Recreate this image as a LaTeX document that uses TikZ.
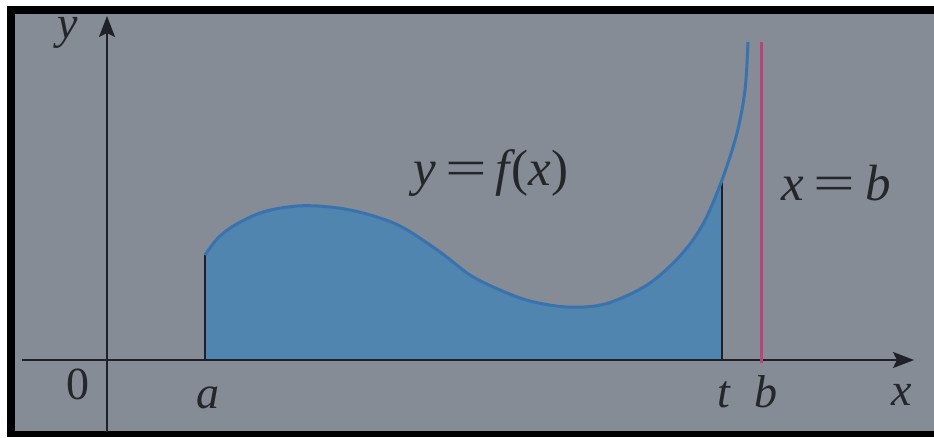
\documentclass[tikz,border=0pt]{standalone}
\usepackage{fontspec}
\setmainfont{Liberation Serif}
\usepackage{graphicx}
\usetikzlibrary{arrows.meta}
\definecolor{bgc}{HTML}{858C96}
\definecolor{fillc}{HTML}{5085B0}
\definecolor{curvec}{HTML}{3A72AE}
\definecolor{redc}{HTML}{B4467A}
\definecolor{axisc}{HTML}{1E2228}
\definecolor{textc}{HTML}{23262B}
\newcommand\eqsign{\scalebox{1.45}[1]{=}}
\begin{document}
\begin{tikzpicture}[x=1pt,y=-1pt,
  lab/.style={font=\fontsize{46}{52}\selectfont\itshape, text=textc, inner sep=0pt, anchor=base},
  eqlab/.style={lab, font=\fontsize{51}{56}\selectfont\itshape},
  axisline/.style={draw=axisc, line width=2.2pt, -{Stealth[length=21pt,width=16pt,inset=4pt]}},
  bound/.style={draw=axisc, line width=2.5pt},
  fx/.style={draw=curvec, line width=3pt}]
\useasboundingbox (0,0) rectangle (934,437);
\fill[white] (0,0) rectangle (934,437);
\fill[black] (7,6) rectangle (934,437);
\fill[bgc] (15,14) rectangle (934,431);
% shaded area
\begin{scope}
\clip (205,0) rectangle (722,360);
\fill[fillc] (205,360) -- plot[smooth,tension=0.55] coordinates {(205,255) (218,238) (235,225) (263,212) (297,206) (330,207) (363,213) (400,226) (440,252) (470,275) (500,290) (530,301) (567,307) (605,304) (647,285) (680,256) (703,224) (722,180) (737,133) (745,90) (748,42)} -- (748,360) -- cycle;
\end{scope}
% axes
\coordinate (xs) at (22,360);
\coordinate (xe) at (914,360);
\coordinate (ys) at (107,432);
\coordinate (ye) at (107,16);
\draw[axisline] (xs) -- (xe);
\draw[axisline] (ys) -- (ye);
% boundaries
\coordinate (a0) at (205,360); \coordinate (a1) at (205,255);
\coordinate (t0) at (722,360); \coordinate (t1) at (722,178);
\draw[bound] (a0) -- (a1);
\draw[bound] (t0) -- (t1);
% red line
\coordinate (b0) at (761,363); \coordinate (b1) at (761,42);
\draw[draw=redc, line width=3pt] (b0) -- (b1);
% curve
\draw[fx] plot[smooth,tension=0.55] coordinates {(205,255) (218,238) (235,225) (263,212) (297,206) (330,207) (363,213) (400,226) (440,252) (470,275) (500,290) (530,301) (567,307) (605,304) (647,285) (680,256) (703,224) (722,180) (737,133) (745,90) (748,42)};
% labels
\node[lab] (ylab) at (68,38) {y};
\node[lab, font=\fontsize{46}{52}\selectfont] (zero) at (78,399) {0};
\node[lab] (alab) at (208,408) {a};
\node[lab] (tlab) at (724,407) {t};
\node[lab] (blab) at (766,407) {b};
\node[lab] (xlab) at (902,405) {x};
\node[eqlab] (fxlab) at (491,185) {y\hspace{9pt}{\upshape\eqsign}\hspace{9pt}f\hspace{2pt}{\upshape(}x{\upshape)}};
\node[eqlab] (xblab) at (836,200) {x\hspace{10pt}{\upshape\eqsign}\hspace{10pt}b};
\end{tikzpicture}
\end{document}
